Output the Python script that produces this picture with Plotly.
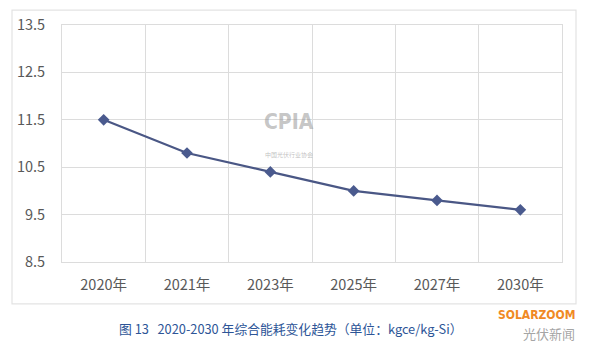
import plotly.graph_objects as go

years = ["2020年", "2021年", "2023年", "2025年", "2027年", "2030年"]
energy = [11.5, 10.8, 10.4, 10.0, 9.8, 9.6]
y_ticks = [8.5, 9.5, 10.5, 11.5, 12.5, 13.5]
y_tick_labels = ["8.5", "9.5", "10.5", "11.5", "12.5", "13.5"]
caption = "图 13   2020-2030 年综合能耗变化趋势（单位：kgce/kg-Si）"

fig = go.Figure()
fig.add_trace(go.Scatter(
    x=years, y=energy, mode="lines+markers",
    line=dict(color="#4a5785", width=2.2),
    marker=dict(symbol="diamond", size=9, color="#4a5a8e"),
    showlegend=False,
))

grid = "#dcdcdc"
fig.update_layout(
    width=600, height=353,
    margin=dict(l=62, r=38, t=25, b=91),
    paper_bgcolor="white", plot_bgcolor="white",
    font=dict(family="Noto Sans CJK SC, Noto Sans, sans-serif", color="#595959", size=13),
    xaxis=dict(type="category", range=[-0.5, 5.5], tickson="boundaries",
               showgrid=True, gridcolor=grid, gridwidth=1,
               showline=True, linecolor=grid, mirror=True,
               ticks="", ticklen=0, ticklabelstandoff=10,
               tickfont=dict(size=14.5, color="#595959")),
    yaxis=dict(range=[8.5, 13.5], tickvals=y_ticks, ticktext=y_tick_labels,
               showgrid=True, gridcolor=grid, gridwidth=1,
               showline=True, linecolor=grid, mirror=True, zeroline=False,
               ticks="", ticklabelstandoff=13,
               tickfont=dict(size=14.5, color="#595959")),
    shapes=[dict(type="rect", xref="paper", yref="paper",
                 x0=-0.1, x1=1.028, y0=-0.177, y1=1.063,
                 line=dict(color="#e3e3e3", width=1.2), fillcolor="rgba(0,0,0,0)", layer="below")],
    annotations=[
        dict(text=caption, xref="paper", yref="paper", x=0.458, y=-0.28,
             xanchor="center", yanchor="middle", showarrow=False,
             font=dict(size=12.8, color="#2d5597", family="Noto Sans CJK SC")),
        dict(text="<b>CPIA</b>", xref="paper", yref="paper", x=0.454, y=0.59,
             xanchor="center", yanchor="middle", showarrow=False,
             font=dict(size=21, color="rgba(150,150,150,0.55)", family="DejaVu Sans Condensed")),
        dict(text="中国光伏行业协会", xref="paper", yref="paper", x=0.454, y=0.455,
             xanchor="center", yanchor="middle", showarrow=False,
             font=dict(size=6, color="rgba(150,150,150,0.6)", family="Noto Sans CJK SC")),
        dict(text="<b>SOLARZOOM</b>", xref="paper", yref="paper", x=1.03, y=-0.225,
             xanchor="right", yanchor="middle", showarrow=False,
             font=dict(size=12, color="#f08a24", family="DejaVu Sans Condensed")),
        dict(text="光伏新闻", xref="paper", yref="paper", x=1.03, y=-0.3,
             xanchor="right", yanchor="middle", showarrow=False,
             font=dict(size=13, color="rgba(140,140,140,0.8)", family="Noto Sans CJK SC")),
    ],
)

fig.write_html("out.html")
